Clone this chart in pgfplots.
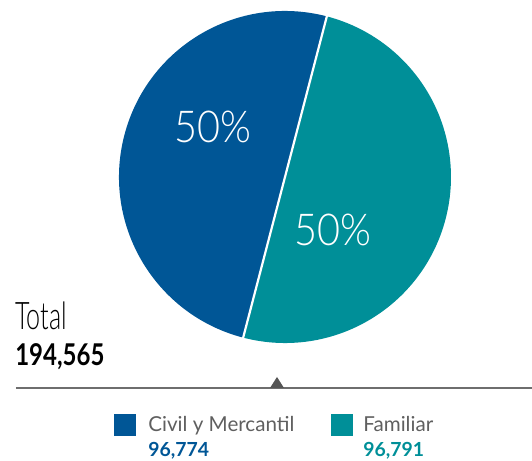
\documentclass[border=0pt]{standalone}
\usepackage{pgfplots}
\usepackage{pgfplotstable}
\pgfplotsset{compat=1.18}
\usepackage{fontspec}
\setmainfont{Lato}
\newfontfamily\lightfont{Lato Light}
\definecolor{cblue}{RGB}{0,86,150}
\definecolor{cteal}{RGB}{0,143,152}
\definecolor{cgray}{RGB}{95,95,95}
\definecolor{cline}{RGB}{110,110,110}
\pgfplotstableread{
label value
Civil 96774
Familiar 96791
}\piedata
\begin{document}
\begin{tikzpicture}
\pgfplotstablegetelem{0}{value}\of\piedata \edef\va{\pgfplotsretval}
\pgfplotstablegetelem{1}{value}\of\piedata \edef\vb{\pgfplotsretval}
\edef\aS{75.4}
\edef\aM{\fpeval{round(75.4+360*\va/(\va+\vb),3)}}
\edef\aE{\fpeval{75.4+360}}
\begin{axis}[
  x=0.5pt, y=0.5pt,
  xmin=0, xmax=532, ymin=0, ymax=461,
  hide axis, clip=false,
  scale only axis,
]
\coordinate (ll) at (axis cs:0,0);
\coordinate (ur) at (axis cs:532,461);
% pie slices
\fill[cblue] (axis cs:285,284) -- ++(\aS:83pt) arc[start angle=\aS, end angle=\aM, radius=83pt] -- cycle;
\fill[cteal] (axis cs:285,284) -- ++(\aM:83pt) arc[start angle=\aM, end angle=\aE, radius=83pt] -- cycle;
\draw[white, line width=1.1pt] (axis cs:285,284) ++(\aS:83.5pt) -- ++(\aS+180:167pt);
% percentages
\node[white, transform shape, xscale=0.9, font=\lightfont\fontsize{22}{24}\selectfont] at (axis cs:213,334) {50\%};
\node[white, transform shape, xscale=0.9, font=\lightfont\fontsize{22}{24}\selectfont] at (axis cs:333,231) {50\%};
% total
\node[anchor=base west, inner sep=0pt, transform shape, xscale=0.66, font=\lightfont\fontsize{19}{20}\selectfont] at (axis cs:15,131) {Total};
\node[anchor=base west, inner sep=0pt, transform shape, xscale=0.8, font=\fontsize{15}{16}\selectfont\bfseries] at (axis cs:15,95) {194,565};
% line and triangle
\draw[cline, line width=1.1pt] (axis cs:16,73) -- (axis cs:532,73);
\fill[cgray!90!black] (axis cs:270,73) -- (axis cs:284,73) -- (axis cs:277,84) -- cycle;
% legend
\fill[cblue] (axis cs:114,25) rectangle (axis cs:136,47);
\node[anchor=base west, inner sep=0pt, text=cgray, font=\fontsize{10.3}{11}\selectfont] at (axis cs:148,29) {Civil y Mercantil};
\node[anchor=base west, inner sep=0pt, text=cblue, font=\fontsize{9.7}{11}\selectfont\bfseries] at (axis cs:148,4) {96,774};
\fill[cteal] (axis cs:331,25) rectangle (axis cs:353,47);
\node[anchor=base west, inner sep=0pt, text=cgray, font=\fontsize{10.3}{11}\selectfont] at (axis cs:363,29) {Familiar};
\node[anchor=base west, inner sep=0pt, text=cteal, font=\fontsize{9.7}{11}\selectfont\bfseries] at (axis cs:363,4) {96,791};
\end{axis}
\pgfresetboundingbox
\useasboundingbox (ll) rectangle (ur);
\end{tikzpicture}
\end{document}
